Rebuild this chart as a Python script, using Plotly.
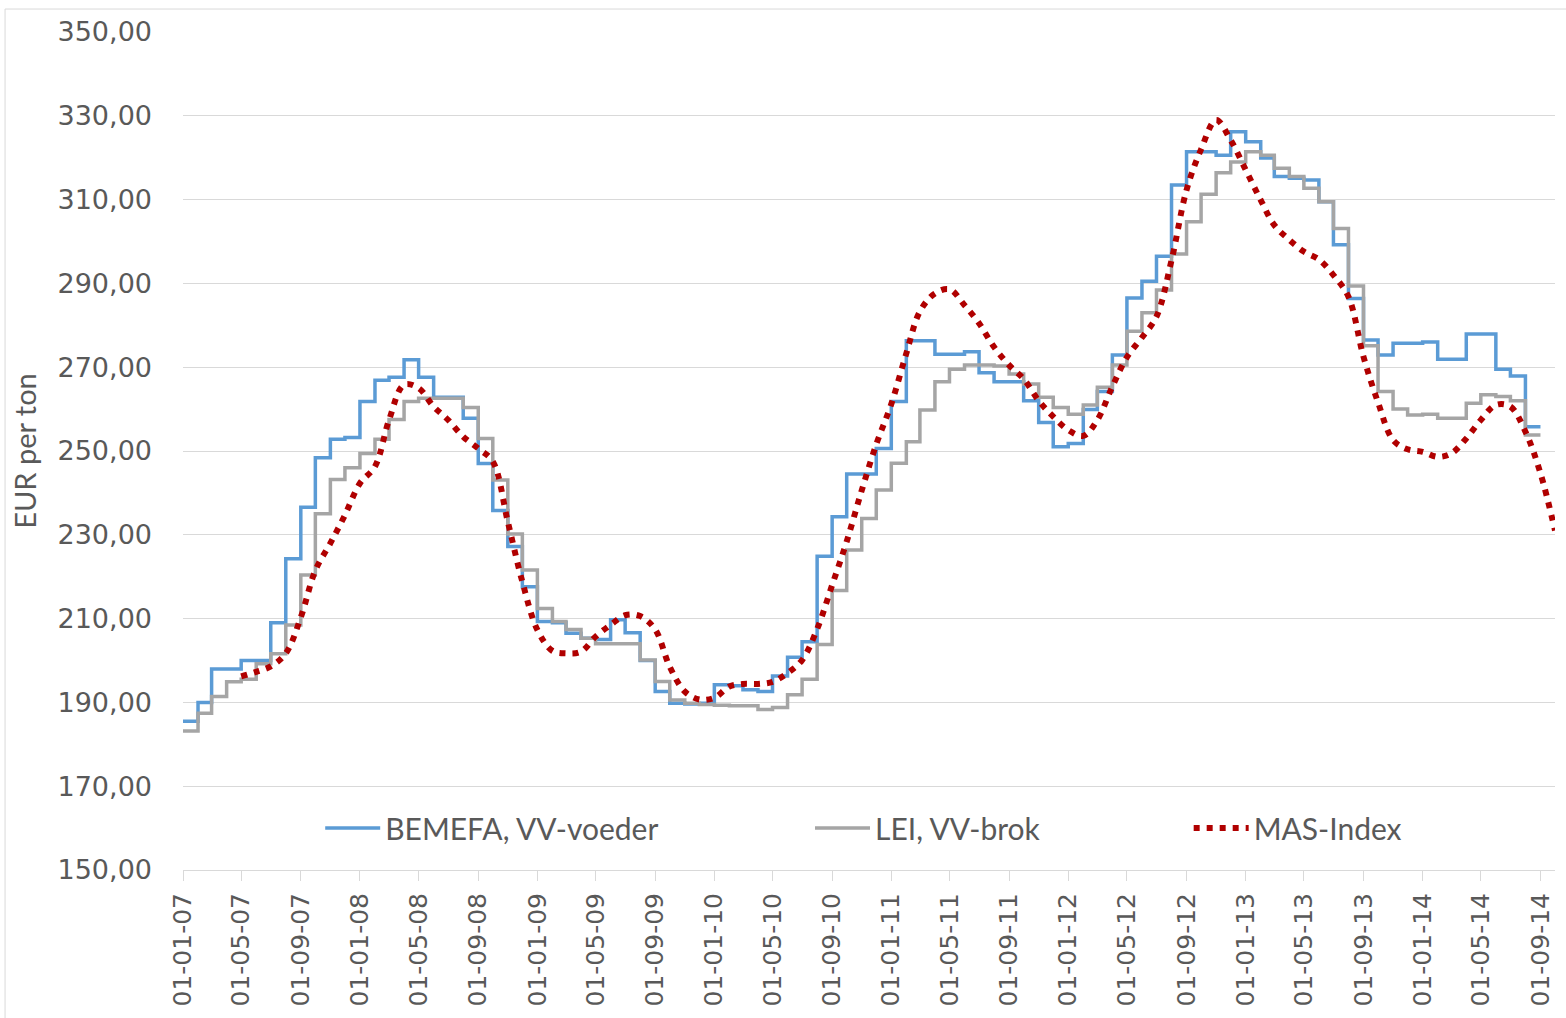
import pandas as pd
import plotly.graph_objects as go

# ---- data (monthly) ----
start_month = "2007-01-01"

bemefa = [185.5, 190.0, 198.0, 198.0, 200.0, 200.0, 209.0, 224.3, 236.6, 248.4, 252.8, 253.2,
          261.8, 266.9, 267.6, 271.8, 267.6, 262.8, 262.8, 257.8, 247.0, 235.8, 227.2, 217.6,
          209.3, 209.0, 206.5, 205.3, 205.0, 209.7, 206.6, 200.0, 192.6, 189.8, 189.6, 189.8,
          194.2, 194.0, 193.0, 192.6, 196.3, 200.8, 204.5, 224.9, 234.3, 244.5, 244.5, 250.6,
          261.8, 276.3, 276.3, 273.1, 273.1, 273.7, 268.7, 266.5, 266.5, 262.0, 256.8, 251.0,
          251.8, 259.9, 264.2, 272.9, 286.5, 290.5, 296.5, 313.5, 321.4, 321.4, 320.6, 326.2,
          323.8, 319.9, 315.5, 315.1, 314.7, 309.5, 299.2, 286.4, 276.5, 272.9, 275.7, 275.7,
          276.0, 271.9, 271.9, 277.9, 277.9, 269.5, 267.9, 255.8, 255.8]

lei = [183.2, 187.4, 191.4, 194.9, 195.5, 199.2, 201.6, 208.5, 220.4, 235.0, 243.2, 246.0,
       249.4, 252.8, 257.5, 261.8, 262.6, 262.6, 262.6, 260.4, 253.0, 243.1, 230.2, 221.6,
       212.4, 209.3, 207.4, 205.3, 204.0, 204.0, 204.0, 200.1, 195.0, 190.6, 189.8, 189.5,
       189.3, 189.2, 189.2, 188.3, 188.8, 191.8, 195.5, 203.8, 216.7, 226.4, 233.9, 240.7,
       247.1, 252.2, 259.8, 266.5, 269.5, 270.5, 270.5, 270.3, 268.4, 266.0, 262.8, 260.4,
       258.8, 261.0, 265.2, 270.5, 278.6, 283.0, 288.4, 297.0, 304.7, 311.3, 316.4, 319.0,
       321.4, 320.6, 317.5, 315.5, 312.7, 309.5, 303.1, 289.4, 275.1, 264.2, 260.0, 258.6,
       258.8, 257.8, 257.8, 261.4, 263.4, 263.0, 262.0, 253.8, 253.8]

mas_start = "2007-05-01"
mas = [196.2, 197.3, 198.6, 201.7, 210.3, 221.5, 228.0, 234.7,
       242.3, 246.3, 257.4, 265.8, 265.0, 260.6, 257.4, 253.4, 250.6, 247.5, 233.1, 218.8,
       207.3, 202.3, 201.7, 202.1, 205.7, 208.5, 210.8, 210.6, 207.4, 198.5, 192.6, 190.7,
       191.1, 193.8, 194.4, 194.4, 194.9, 197.0, 200.1, 207.5, 218.0, 228.4, 240.6, 251.6,
       261.2, 273.3, 283.3, 287.6, 288.6, 284.8, 280.5, 274.8, 270.5, 267.2, 262.0, 258.2,
       255.0, 253.6, 257.4, 265.4, 272.4, 277.1, 282.1, 295.5, 312.3, 322.0, 329.0, 324.2,
       317.1, 309.9, 303.9, 300.4, 297.6, 295.7, 292.0, 286.8, 272.5, 261.6, 252.6, 250.4,
       249.8, 248.6, 249.4, 253.0, 257.4, 261.0, 260.6, 254.6, 244.7, 231.0]

names = ["BEMEFA, VV-voeder", "LEI, VV-brok", "MAS-Index"]
y_title = "EUR per ton"

dates_main = pd.date_range(start_month, periods=len(bemefa), freq="MS")
dates_mas = pd.date_range(mas_start, periods=len(mas), freq="MS")

GRID = "#D9D9D9"
TXT = "#595959"

fig = go.Figure()
fig.add_trace(go.Scatter(x=dates_main, y=bemefa, name=names[0], mode="lines", showlegend=True,
                         line=dict(color="#5B9BD5", width=3.5, shape="hv"), legend="legend"))
fig.add_trace(go.Scatter(x=dates_main, y=lei, name=names[1], mode="lines", showlegend=True,
                         line=dict(color="#A5A5A5", width=3.5, shape="hv"), legend="legend2"))
fig.add_trace(go.Scatter(x=dates_mas, y=mas, name=names[2], mode="lines", showlegend=True,
                         line=dict(color="#B00000", width=6, shape="spline", dash="6px,7px"),
                         legend="legend3"))

leg_common = dict(orientation="h", yanchor="middle", y=0.05, bgcolor="rgba(0,0,0,0)",
                  font=dict(family="Lato", size=30, color=TXT), itemwidth=55,
                  xanchor="left")

fig.update_layout(
    width=1566, height=1018,
    margin=dict(l=183, r=11, t=32, b=148),
    paper_bgcolor="white", plot_bgcolor="white",
    separators=",.",
    showlegend=True,
    legend=dict(leg_common, x=0.100),
    legend2=dict(leg_common, x=0.457),
    legend3=dict(leg_common, x=0.733),
    xaxis=dict(type="date", range=["2007-01-01", "2014-10-01"], tick0="2007-01-01", dtick="M4",
               tickformat="%d-%m-%y", tickangle=-90, showgrid=False, showline=True,
               linecolor=GRID, linewidth=1, ticks="outside", ticklen=10, tickcolor=GRID,
               tickfont=dict(family="DejaVu Sans", size=25, color=TXT), ticklabelstandoff=2,
               zeroline=False, automargin=False),
    yaxis=dict(range=[150, 350], dtick=20, tick0=150, tickformat=".2f", showgrid=True,
               gridcolor=GRID, gridwidth=1, zeroline=False, showline=False, automargin=False,
               tickfont=dict(family="DejaVu Sans", size=27, color=TXT), ticklabelstandoff=30,
               title=dict(text=y_title, font=dict(family="Lato", size=29, color=TXT), standoff=12)),
    shapes=[dict(type="rect", xref="paper", yref="paper", x0=-0.1297, x1=1.02,
                 y0=-0.2, y1=1.0274, line=dict(color=GRID, width=1), layer="below")],
)

fig.write_html("out.html", config={"displayModeBar": False},
               post_script="document.body.style.margin='0';")
